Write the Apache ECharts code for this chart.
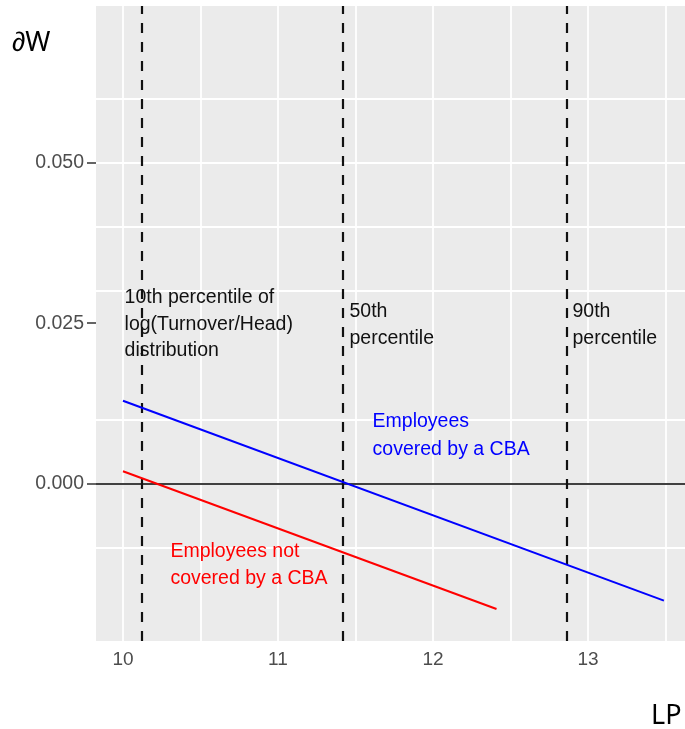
<!DOCTYPE html>
<html>
<head>
<meta charset="utf-8">
<script src="https://cdn.jsdelivr.net/npm/echarts@6/dist/echarts.min.js"></script>
<style>
html,body{margin:0;padding:0;background:#fff;}
#chart{width:685px;height:729px;}
</style>
</head>
<body>
<div id="chart"></div>
<script>
// ---- data ----
const xRange = [9.826, 13.626];
const yRange = [-0.0246, 0.0745];
const xTickValues = [10, 11, 12, 13];
const yTickValues = [0, 0.025, 0.05];
const xGridValues = [10, 10.5, 11, 11.5, 12, 12.5, 13, 13.5];
const yGridValues = [-0.0125, 0, 0.0125, 0.025, 0.0375, 0.05, 0.0625];
const percentileX = [10.116, 11.422, 12.856];
const coveredX = [10, 13.49];
const coveredY = [0.0129, -0.0183];
const notCoveredX = [10, 12.41];
const notCoveredY = [0.0019, -0.0196];
const percentileLabels = [
  {x: 10.007, y: 0.0248, text: '10th percentile of\nlog(Turnover/Head)\ndistribution'},
  {x: 11.458, y: 0.0247, text: '50th\npercentile'},
  {x: 12.897, y: 0.0247, text: '90th\npercentile'}
];
const coveredLabel = {x: 11.607, y: 0.0074, text: 'Employees\ncovered by a CBA'};
const notCoveredLabel = {x: 10.303, y: -0.0127, text: 'Employees not\ncovered by a CBA'};
const yAxisTitle = '∂W';
const xAxisTitle = 'LP';

// ---- chart ----
const chart = echarts.init(document.getElementById('chart'), null, {renderer: 'canvas'});
const FONT = '"Liberation Sans", Arial, sans-serif';

function pairs(xs, ys) { return xs.map((x, i) => [x, ys[i]]); }

const option = {
  backgroundColor: '#ffffff',
  animation: false,
  grid: {
    left: 96, right: 0, top: 6, bottom: 88,
    show: true, backgroundColor: '#ebebeb', borderWidth: 0,
    containLabel: false, outerBoundsMode: 'none'
  },
  xAxis: {
    type: 'value', min: xRange[0], max: xRange[1],
    axisLine: {show: false},
    splitLine: {show: false},
    axisTick: {show: true, customValues: xTickValues, length: 6, lineStyle: {color: '#333', width: 1.5}},
    axisLabel: {customValues: xTickValues, color: '#4d4d4d', fontSize: 19, fontFamily: FONT, margin: 9,
      formatter: v => String(Math.round(v))}
  },
  yAxis: {
    type: 'value', min: yRange[0], max: yRange[1],
    axisLine: {show: false},
    splitLine: {show: false},
    axisTick: {show: true, customValues: yTickValues, length: 9, lineStyle: {color: '#333', width: 1.5}},
    axisLabel: {customValues: yTickValues, color: '#4d4d4d', fontSize: 19.5, fontFamily: FONT, margin: 12,
      formatter: v => v.toFixed(3)}
  },
  graphic: [
    {type: 'text', left: 12, top: 30, style: {text: yAxisTitle, fontSize: 27, fontFamily: '"Noto Sans", sans-serif', fill: '#000'}},
    {type: 'text', left: 651, top: 703, style: {text: xAxisTitle, fontSize: 27, fontFamily: '"Noto Sans", sans-serif', fill: '#000'}}
  ],
  series: [
    { // grid lines
      type: 'line', data: [], silent: true, zlevel: 0, z: 1,
      markLine: {
        silent: true, symbol: ['none', 'none'], label: {show: false},
        lineStyle: {color: '#ffffff', width: 1.8, type: 'solid'},
        data: xGridValues.map(v => ({xAxis: v})).concat(yGridValues.map(v => ({yAxis: v})))
      }
    },
    { // zero line
      type: 'line', data: [], silent: true, zlevel: 1, z: 2,
      markLine: {
        silent: true, symbol: ['none', 'none'], label: {show: false},
        lineStyle: {color: '#000000', width: 1.5, type: 'solid'},
        data: [{yAxis: 0}]
      }
    },
    { // percentile lines
      type: 'line', data: [], silent: true, zlevel: 1, z: 3,
      markLine: {
        silent: true, symbol: ['none', 'none'], label: {show: false},
        lineStyle: {color: '#111111', width: 2.2, type: [10, 9]},
        data: percentileX.map(v => ({xAxis: v}))
      }
    },
    {
      name: 'covered', type: 'line', data: pairs(coveredX, coveredY), zlevel: 1, z: 4,
      symbol: 'none', lineStyle: {color: '#0000ff', width: 2}
    },
    {
      name: 'not covered', type: 'line', data: pairs(notCoveredX, notCoveredY), zlevel: 1, z: 4,
      symbol: 'none', lineStyle: {color: '#ff0000', width: 2}
    },
    { // annotations
      type: 'scatter', zlevel: 1, z: 5, silent: true, symbolSize: 1,
      itemStyle: {color: 'rgba(0,0,0,0)', opacity: 1},
      label: {show: true, position: 'right', distance: 0, align: 'left', verticalAlign: 'middle',
        fontSize: 19.5, fontFamily: FONT, opacity: 1, formatter: p => p.data.text},
      data: percentileLabels.map(d => ({value: [d.x, d.y], text: d.text,
          label: {color: '#111111', lineHeight: 26.5}}))
        .concat([
          {value: [coveredLabel.x, coveredLabel.y], text: coveredLabel.text, label: {color: '#0000ff', lineHeight: 28}},
          {value: [notCoveredLabel.x, notCoveredLabel.y], text: notCoveredLabel.text, label: {color: '#ff0000', lineHeight: 27}}
        ])
    }
  ]
};
chart.setOption(option);
</script>
</body>
</html>
